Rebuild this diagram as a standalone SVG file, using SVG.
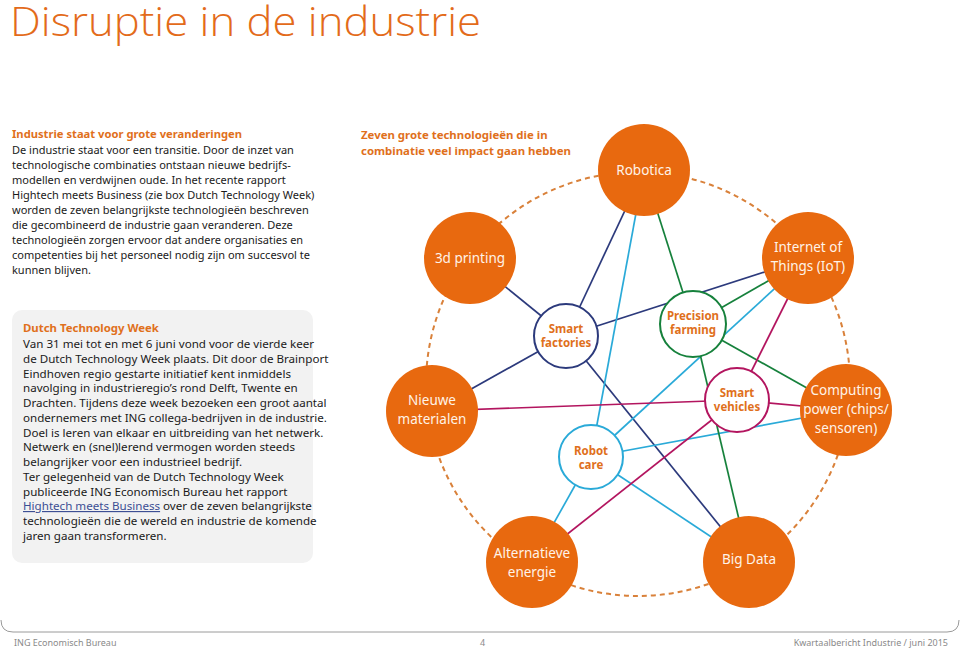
<svg xmlns="http://www.w3.org/2000/svg" width="960" height="649" viewBox="0 0 960 649">
<style>
.title{font-family:"Open Sans","Noto Sans",sans-serif;font-size:40px;fill:#e36b1a;font-weight:300;}
.h{font-family:"Noto Sans",sans-serif;font-size:11.4px;font-weight:bold;fill:#e0701c;}
.b{font-family:"Noto Sans",sans-serif;font-size:11.6px;fill:#1a1a1a;}
.bi{font-family:"Noto Sans",sans-serif;font-size:11px;fill:#1a1a1a;}
.big{fill:#e8690f;}
.bigt{font-family:"Noto Sans",sans-serif;font-size:13.5px;fill:#fff3e8;text-anchor:middle;}
.sm{fill:#ffffff;stroke-width:2;}
.smt{font-family:"Noto Sans",sans-serif;font-size:11.5px;font-weight:bold;fill:#e0701c;text-anchor:middle;}
.navy{stroke:#2c3a7c;}
.cyan{stroke:#2aaad8;}
.green{stroke:#16813c;}
.mag{stroke:#b3155f;}
#connectors line{stroke-width:1.7;fill:none;}
.foot{font-family:"Noto Sans",sans-serif;font-size:9px;fill:#8a8a8a;}
</style>
<text x="10" y="36" class="title" textLength="471" lengthAdjust="spacingAndGlyphs">Disruptie in de industrie</text>

<g id="intro">
<text x="12" y="138" class="h" textLength="230" lengthAdjust="spacingAndGlyphs">Industrie staat voor grote veranderingen</text>
<text class="bi">
<tspan x="12" y="154">De industrie staat voor een transitie. Door de inzet van</tspan>
<tspan x="12" y="169">technologische combinaties ontstaan nieuwe bedrijfs-</tspan>
<tspan x="12" y="184">modellen en verdwijnen oude. In het recente rapport</tspan>
<tspan x="12" y="199">Hightech meets Business (zie box Dutch Technology Week)</tspan>
<tspan x="12" y="214">worden de zeven belangrijkste technologieën beschreven</tspan>
<tspan x="12" y="229">die gecombineerd de industrie gaan veranderen. Deze</tspan>
<tspan x="12" y="244">technologieën zorgen ervoor dat andere organisaties en</tspan>
<tspan x="12" y="259">competenties bij het personeel nodig zijn om succesvol te</tspan>
<tspan x="12" y="274">kunnen blijven.</tspan>
</text>
</g>

<g id="box">
<rect x="12" y="310" width="301" height="253" rx="10" fill="#f2f2f2"/>
<text x="23" y="332" class="h">Dutch Technology Week</text>
<text class="b">
<tspan x="23" y="348">Van 31 mei tot en met 6 juni vond voor de vierde keer</tspan>
<tspan x="23" y="363">de Dutch Technology Week plaats. Dit door de Brainport</tspan>
<tspan x="23" y="378">Eindhoven regio gestarte initiatief kent inmiddels</tspan>
<tspan x="23" y="392">navolging in industrieregio’s rond Delft, Twente en</tspan>
<tspan x="23" y="407">Drachten. Tijdens deze week bezoeken een groot aantal</tspan>
<tspan x="23" y="422">ondernemers met ING collega-bedrijven in de industrie.</tspan>
<tspan x="23" y="437">Doel is leren van elkaar en uitbreiding van het netwerk.</tspan>
<tspan x="23" y="451">Netwerk en (snel)lerend vermogen worden steeds</tspan>
<tspan x="23" y="466">belangrijker voor een industrieel bedrijf.</tspan>
<tspan x="23" y="481">Ter gelegenheid van de Dutch Technology Week</tspan>
<tspan x="23" y="496">publiceerde ING Economisch Bureau het rapport</tspan>
<tspan x="23" y="510"><tspan fill="#3d4f94" text-decoration="underline">Hightech meets Business</tspan> over de zeven belangrijkste</tspan>
<tspan x="23" y="525">technologieën die de wereld en industrie de komende</tspan>
<tspan x="23" y="540">jaren gaan transformeren.</tspan>
</text>
</g>

<g id="diagram-title">
<text class="h"><tspan x="361" y="139">Zeven grote technologieën die in</tspan><tspan x="361" y="155">combinatie veel impact gaan hebben</tspan></text>
</g>

<circle cx="638" cy="384" r="212" fill="none" stroke="#d9813a" stroke-width="2" stroke-dasharray="5 4"/>

<g id="connectors">
<line class="navy" x1="470" y1="258" x2="566" y2="336"/>
<line class="navy" x1="644" y1="170" x2="566" y2="336"/>
<line class="navy" x1="808" y1="258" x2="566" y2="336"/>
<line class="navy" x1="432" y1="411" x2="566" y2="336"/>
<line class="navy" x1="749" y1="562" x2="566" y2="336"/>
<line class="cyan" x1="644" y1="170" x2="591" y2="457"/>
<line class="cyan" x1="808" y1="258" x2="591" y2="457"/>
<line class="cyan" x1="846" y1="410" x2="591" y2="457"/>
<line class="cyan" x1="532" y1="562" x2="591" y2="457"/>
<line class="cyan" x1="749" y1="562" x2="591" y2="457"/>
<line class="green" x1="644" y1="170" x2="693" y2="324"/>
<line class="green" x1="808" y1="258" x2="693" y2="324"/>
<line class="green" x1="846" y1="410" x2="693" y2="324"/>
<line class="green" x1="749" y1="562" x2="693" y2="324"/>
<line class="mag" x1="808" y1="258" x2="737" y2="400"/>
<line class="mag" x1="432" y1="411" x2="737" y2="400"/>
<line class="mag" x1="846" y1="410" x2="737" y2="400"/>
<line class="mag" x1="532" y1="562" x2="737" y2="400"/>
</g>

<g id="robotica"><circle class="big" cx="644" cy="170" r="46"/><text class="bigt" x="644" y="175">Robotica</text></g>
<g id="printing"><circle class="big" cx="470" cy="258" r="46"/><text class="bigt" x="470" y="263">3d printing</text></g>
<g id="iot"><circle class="big" cx="808" cy="258" r="46"/><text class="bigt" x="808" y="252">Internet of</text><text class="bigt" x="808" y="271">Things (IoT)</text></g>
<g id="materialen"><circle class="big" cx="432" cy="411" r="46"/><text class="bigt" x="432" y="405">Nieuwe</text><text class="bigt" x="432" y="424">materialen</text></g>
<g id="computing"><circle class="big" cx="846" cy="410" r="46"/><text class="bigt" x="846" y="395">Computing</text><text class="bigt" x="846" y="414">power (chips/</text><text class="bigt" x="846" y="433">sensoren)</text></g>
<g id="energie"><circle class="big" cx="532" cy="562" r="46"/><text class="bigt" x="532" y="558">Alternatieve</text><text class="bigt" x="532" y="577">energie</text></g>
<g id="bigdata"><circle class="big" cx="749" cy="562" r="46"/><text class="bigt" x="749" y="564">Big Data</text></g>

<g id="factories"><circle class="sm navy" cx="566" cy="336" r="32"/><text class="smt" x="566" y="333">Smart</text><text class="smt" x="566" y="347">factories</text></g>
<g id="farming"><circle class="sm green" cx="693" cy="324" r="33"/><text class="smt" x="693" y="320">Precision</text><text class="smt" x="693" y="334">farming</text></g>
<g id="vehicles"><circle class="sm mag" cx="737" cy="400" r="32"/><text class="smt" x="737" y="397">Smart</text><text class="smt" x="737" y="411">vehicles</text></g>
<g id="robotcare"><circle class="sm cyan" cx="591" cy="457" r="32"/><text class="smt" x="591" y="455">Robot</text><text class="smt" x="591" y="469">care</text></g>

<g id="footer">
<path d="M1 620 Q1 632 13 632 L947 632 Q959 632 959 620" fill="none" stroke="#9a9a9a" stroke-width="1"/>
<text class="foot" x="14" y="646">ING Economisch Bureau</text>
<text class="foot" x="480" y="646" font-size="11">4</text>
<text class="foot" x="948" y="646" text-anchor="end">Kwartaalbericht Industrie  /  juni 2015</text>
</g>
</svg>
